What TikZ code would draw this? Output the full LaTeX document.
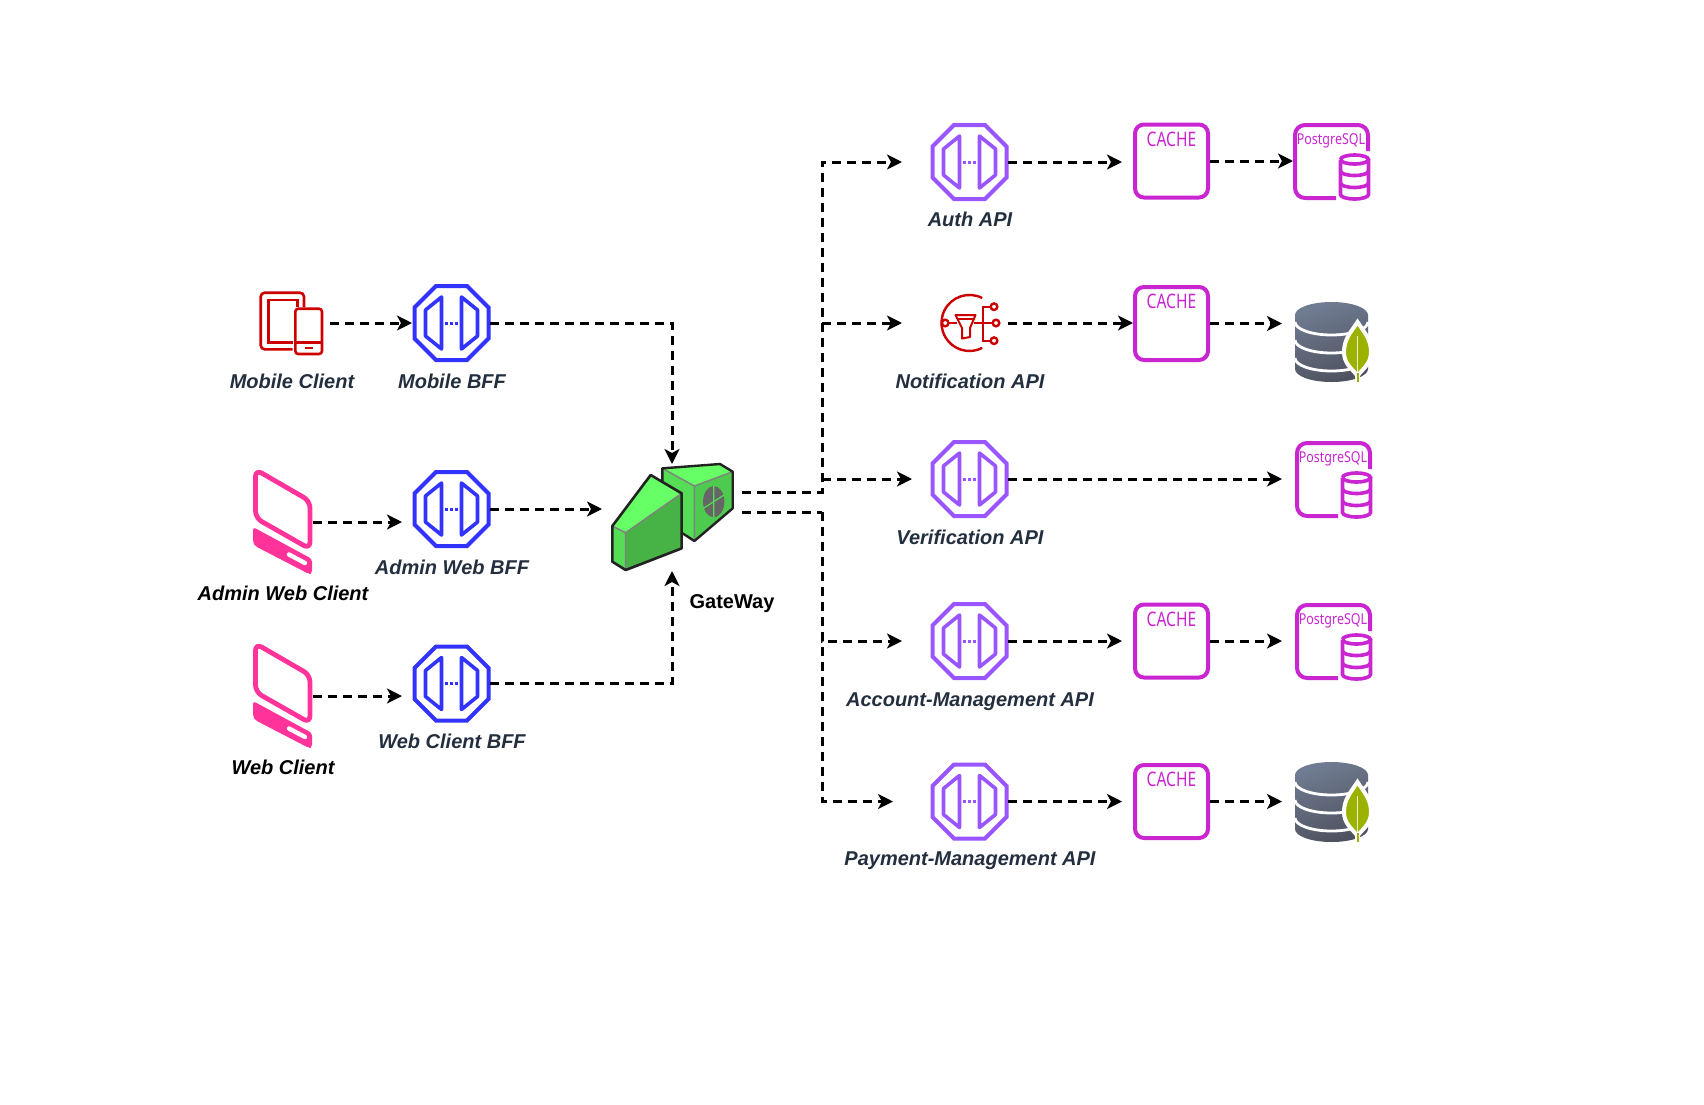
\documentclass[tikz,border=0pt]{standalone}
\usepackage{fontspec}
\setmainfont{Liberation Sans}
\newfontfamily\iconfont{Noto Sans}
\usetikzlibrary{arrows.meta,calc}
\definecolor{bffblue}{HTML}{3333FF}
\definecolor{apipurple}{HTML}{9955FF}
\definecolor{iconred}{HTML}{CC0000}
\definecolor{devpink}{HTML}{FF3399}
\definecolor{cachemag}{HTML}{C925D1}
\definecolor{lblslate}{HTML}{232F3E}
\definecolor{gwtopc}{HTML}{66FF66}
\definecolor{gwleftc}{HTML}{55DD55}
\definecolor{gwrightc}{HTML}{47B347}
\definecolor{gwdark}{HTML}{222222}
\definecolor{dbtop}{HTML}{707C92}
\definecolor{dbbot}{HTML}{4E525F}
\definecolor{leafc}{HTML}{9BB200}
\tikzset{
  x=0.5pt,y=-0.5pt,
  hit/.style={inner sep=0pt,outer sep=0pt,minimum width=#1*0.5pt},
  hit/.default=77,
  apilabel/.style={font=\fontsize{10}{12}\selectfont\bfseries\itshape,text=lblslate,inner sep=0pt},
  blacklabel/.style={font=\fontsize{10}{12}\selectfont\bfseries\itshape,text=black,inner sep=0pt},
  gwlabel/.style={font=\fontsize{10}{12}\selectfont\bfseries,text=black,inner sep=0pt},
  conn/.style={draw=black,line width=1.5pt,dash pattern=on 4.5pt off 3pt,-{Stealth[length=7.5pt,width=7.5pt,inset=2pt]},line join=miter},
  cachebox/.style={draw=cachemag,line width=2pt,rounded corners=4.5pt,minimum width=36.5pt,minimum height=36.5pt,inner sep=0pt},
  cachetext/.style={font=\iconfont\fontsize{10}{12}\selectfont,text=cachemag,xscale=.78,inner sep=0pt},
  pgtext/.style={font=\iconfont\fontsize{7.5}{9}\selectfont,text=cachemag,xscale=.83,inner sep=0pt},
  pics/octa/.style={code={
    \draw[#1,line width=2pt,line join=miter] (-15.5,-37)--(15.5,-37)--(37,-15.5)--(37,15.5)--(15.5,37)--(-15.5,37)--(-37,15.5)--(-37,-15.5)--cycle;
    \draw[#1,line width=1.8pt,line join=round] (-10,-26)--(-10,26)--(-26,13)--(-26,-13)--cycle;
    \draw[#1,line width=1.8pt,line join=round] (10,-26)--(10,26)--(26,13)--(26,-13)--cycle;
    \draw[#1,line width=1.5pt,dash pattern=on 1.5pt off 1pt] (-6.5,0)--(6.5,0);
  }},
  pics/mobicon/.style={code={
    \draw[iconred,line width=1.3pt,rounded corners=2pt] (0.7,26.3)--(-31.3,26.3)--(-31.3,-30.3)--(12,-30.3)--(12,-15.7);
    \draw[iconred,line width=1.3pt] (0.7,19.3)--(-23.7,19.3)--(-23.7,-23)--(5.3,-23)--(5.3,-15.7);
    \draw[iconred,line width=1.3pt,rounded corners=1.5pt] (3.3,-14.3) rectangle (30,31);
    \draw[iconred,line width=1.3pt] (3.3,19.3)--(30,19.3) (13,25)--(20.7,25);
  }},
  pics/devicon/.style={code={
    \draw[devpink,line width=2.4pt,rounded corners=3.5pt,line join=round] (2.5,-1.5)--(57,30)--(57,78)--(2.5,47)--cycle;
    \fill[devpink,rounded corners=1.5pt] (0,56)--(59,88)--(59,102.5)--(56,103)--(2,75)--(0,71)--cycle;
    \draw[white,line width=2.2pt,line cap=round] (36,83.5)--(52,92);
  }},
  pics/pgicon/.style={code={
    \draw[cachemag,line width=2pt,rounded corners=5pt] (43,75)--(2,75)--(2,2)--(75,2)--(75,28);
    \draw[cachemag,line width=1.8pt] (47.5,36.5) arc[start angle=180,end angle=-180,x radius=7pt,y radius=2.25pt];
    \draw[cachemag,line width=1.8pt] (47.5,36.5)--(47.5,71.5) arc[start angle=180,end angle=360,x radius=7pt,y radius=2.25pt]--(75.5,36.5);
    \draw[cachemag,line width=1.8pt] (47.5,48) arc[start angle=180,end angle=360,x radius=7pt,y radius=2.25pt];
    \draw[cachemag,line width=1.8pt] (47.5,60) arc[start angle=180,end angle=360,x radius=7pt,y radius=2.25pt];
  }},
  pics/mongoicon/.style={code={
    \shade[top color=dbtop,bottom color=dbbot,shading angle=20] (0,13) arc[start angle=180,end angle=0,x radius=18.25pt,y radius=6.5pt]--(73,67) arc[start angle=0,end angle=-180,x radius=18.25pt,y radius=6.5pt]--cycle;
    \foreach \yy in {20,38,56}{
      \draw[white,line width=1.4pt] (0,\yy) arc[start angle=180,end angle=360,x radius=18.25pt,y radius=6.5pt];
    }
    \fill[leafc,draw=white,line width=2pt] (62.5,20) .. controls (69,30) and (76,37) .. (76,50) .. controls (76,61) and (69,66) .. (64,72) -- (61,72) .. controls (56,66) and (49,61) .. (49,50) .. controls (49,37) and (56,30) .. (62.5,20) -- cycle;
    \draw[white,line width=.5pt,opacity=.8] (62.5,34)--(62.5,72);
    \draw[white,line width=2.5pt] (62.5,72)--(62.5,80);
    \draw[leafc,line width=1pt] (62.5,71)--(62.5,80);
  }},
  pics/notifyicon/.style={code={
    \begin{scope}[iconred,line width=1.2pt]
      \draw (12.7,-25) arc[start angle=63,end angle=297,radius=14pt];
      \draw (-24.3,0) circle[radius=3.3];
      \draw (24.5,-16.3) circle[radius=3.3];
      \draw (26.5,0) circle[radius=3.3];
      \draw (24.5,17.7) circle[radius=3.3];
      \draw (-21,0)--(-13,0);
      \draw[line width=1pt,line join=round] (-14,-8)--(6,-8)--(0.5,5)--(0.5,14)--(-7.5,15.5)--(-7.5,5)--cycle;
      \draw[line width=.8pt] (-13,-4)--(5,-4);
      \draw (4,0)--(23,0);
      \draw (21.2,-16.3)--(13.7,-16.3)--(13.7,17.7)--(21.2,17.7);
    \end{scope}
  }},
  pics/gwicon/.style={code={
    \begin{scope}[line join=round]
      \fill[gwtopc] (217,85)--(390,72)--(428,95)--(313,138)--cycle;
      \fill[gwleftc] (217,85)--(313,138)--(313,303)--(278,280)--(217,200)--cycle;
      \fill[gwleftc!92!black] (313,138)--(428,95)--(428,205)--(313,303)--cycle;
      \draw[gray,line width=.7pt] (217,85)--(313,138)--(428,95) (313,138)--(313,303);
      \fill[black!60] (371,185) ellipse[x radius=32,y radius=47];
      \draw[gwleftc,line width=.6pt] (371,138)--(371,232) (340,205)--(402,165);
      \draw[gwdark,line width=1.2pt] (217,126)--(217,85)--(390,72)--(428,95)--(428,205)--(313,303)--(278,280);
      \fill[gwtopc] (67,258)--(182,105)--(275,160)--(107,278)--cycle;
      \fill[gwleftc] (67,258)--(107,278)--(107,390)--(67,365)--cycle;
      \fill[gwrightc] (107,278)--(275,160)--(275,325)--(107,390)--cycle;
      \draw[gray,line width=.7pt] (67,258)--(107,278)--(275,160) (107,278)--(107,390);
      \draw[gwdark,line width=1.3pt] (67,258)--(182,105)--(275,160)--(275,325)--(107,390)--(67,365)--cycle;
    \end{scope}
  }},
}
\begin{document}
\begin{tikzpicture}
\useasboundingbox (0,0) rectangle (1704,1104);
% hit nodes
\node[hit=60,minimum height=31pt] (mobc) at (292,323) {};
\node[hit=77,minimum height=38.5pt] (mobbff) at (451.5,323) {};
\node[hit=60,minimum height=51pt] (admc) at (282.5,522) {};
\node[hit=77,minimum height=38.5pt] (admbff) at (451.5,509) {};
\node[hit=60,minimum height=51pt] (webc) at (282.5,696) {};
\node[hit=77,minimum height=38.5pt] (webbff) at (451.5,683.5) {};
\node[hit=140,minimum height=53.5pt] (gw) at (672,517.5) {};
\coordinate (gwtop) at (742,492);
\coordinate (gwbot) at (742,512);
\coordinate (bus) at (822,500);
\node[hit=77,minimum height=38.5pt] (auth) at (969.5,162) {};
\node[hit=77,minimum height=38.5pt] (notif) at (969.5,323) {};
\node[hit=77,minimum height=38.5pt] (verif) at (969.5,479) {};
\node[hit=77,minimum height=38.5pt] (acct) at (969.5,641) {};
\node[hit=77,minimum height=38.5pt] (pay) at (969.5,801.5) {};
% caches
\node[cachebox] (c1) at (1171.5,161) {};
\node[cachebox] (c2) at (1171.5,323.5) {};
\node[cachebox] (c4) at (1171.5,641) {};
\node[cachebox] (c5) at (1171.5,801.5) {};
\node[cachetext] (c1t) at (1171.5,139) {CACHE};
\node[cachetext] (c2t) at (1171.5,301) {CACHE};
\node[cachetext] (c4t) at (1171.5,619) {CACHE};
\node[cachetext] (c5t) at (1171.5,779) {CACHE};
% databases
\node[hit=77,minimum height=38.5pt] (pg1) at (1331.5,161) {};
\node[hit=73,minimum height=40pt] (mg2) at (1331.5,342) {};
\node[hit=77,minimum height=38.5pt] (pg3) at (1333.5,479) {};
\node[hit=77,minimum height=38.5pt] (pg4) at (1333.5,641) {};
\node[hit=73,minimum height=40pt] (mg5) at (1331.5,802) {};
% icons
\pic at (mobc) {mobicon};
\pic at (mobbff) {octa=bffblue};
\pic at (253,471) {devicon};
\pic at (admbff) {octa=bffblue};
\pic at (253,645) {devicon};
\pic at (webbff) {octa=bffblue};
\begin{scope}[shift={(590,440)},x=0.1667pt,y=-0.1667pt]
\pic {gwicon};
\end{scope}
\pic at (auth) {octa=apipurple};
\pic at (notif) {notifyicon};
\pic at (verif) {octa=apipurple};
\pic at (acct) {octa=apipurple};
\pic at (pay) {octa=apipurple};
\pic at (1293,123) {pgicon};
\pic at (1295,441) {pgicon};
\pic at (1295,603) {pgicon};
\pic at (1295,302) {mongoicon};
\pic at (1295,762) {mongoicon};
\node[pgtext] (p1t) at (1331,141) {PostgreSQL};
\node[pgtext] (p3t) at (1333,459) {PostgreSQL};
\node[pgtext] (p4t) at (1333,621) {PostgreSQL};
% labels
\node[apilabel] (l1) at (292,381) {Mobile Client};
\node[apilabel] (l2) at (452,381) {Mobile BFF};
\node[apilabel] (l3) at (452,567) {Admin Web BFF};
\node[blacklabel] (l4) at (283,593) {Admin Web Client};
\node[apilabel] (l5) at (452,741) {Web Client BFF};
\node[blacklabel] (l6) at (283,767) {Web Client};
\node[gwlabel] (l7) at (732,604) {GateWay};
\node[apilabel] (l8) at (970,219) {Auth API};
\node[apilabel] (l9) at (970,381) {Notification API};
\node[apilabel] (l10) at (970,537) {Verification API};
\node[apilabel] (l11) at (970,702) {Account-Management API};
\node[apilabel] (l12) at (970,861) {Payment-Management API};
% connectors left
\draw[conn,shorten <=4pt,shorten >=.5pt] (mobc.east)--(mobbff.west);
\draw[conn] (mobbff.east) -| (gw.north);
\draw[conn,shorten >=5.5pt] (admc.east)--(admc.east -| admbff.west);
\draw[conn] (admbff.east)--(admbff.east -| gw.west);
\draw[conn,shorten >=5.5pt] (webc.east)--(webc.east -| webbff.west);
\draw[conn] (webbff.east) -| (gw.south);
% connectors gateway
\draw[conn,-] (gwtop)--(gwtop -| bus)--(bus |- notif);
\draw[conn,-] (gwbot)--(gwbot -| bus);
\draw[conn,shorten >=14.5pt] (gwtop) -- (gwtop -| bus) |- (auth.west);
\draw[conn,shorten >=9.5pt] (bus |- verif) -- (verif.west);
\draw[conn,shorten >=14.5pt] (bus |- notif) -- (notif.west);
\draw[conn,shorten >=14.5pt] (gwbot -| bus) |- (acct.west);
\draw[conn,shorten >=19pt] (gwbot -| bus) |- (pay.west);
% right
\draw[conn,shorten >=5.5pt] (auth.east)--(auth.east -| c1.west);
\draw[conn] (c1.east)--(c1.east -| pg1.west);
\draw[conn] (notif.east)--(notif.east -| c2.west);
\draw[conn,shorten >=6.5pt] (c2.east)--(c2.east -| mg2.west);
\draw[conn,shorten >=6.5pt] (verif.east)--(verif.east -| pg3.west);
\draw[conn,shorten >=5.5pt] (acct.east)--(acct.east -| c4.west);
\draw[conn,shorten >=6.5pt] (c4.east)--(c4.east -| pg4.west);
\draw[conn,shorten >=5.5pt] (pay.east)--(pay.east -| c5.west);
\draw[conn,shorten >=6.5pt] (c5.east)--(c5.east -| mg5.west);
\end{tikzpicture}
\end{document}
